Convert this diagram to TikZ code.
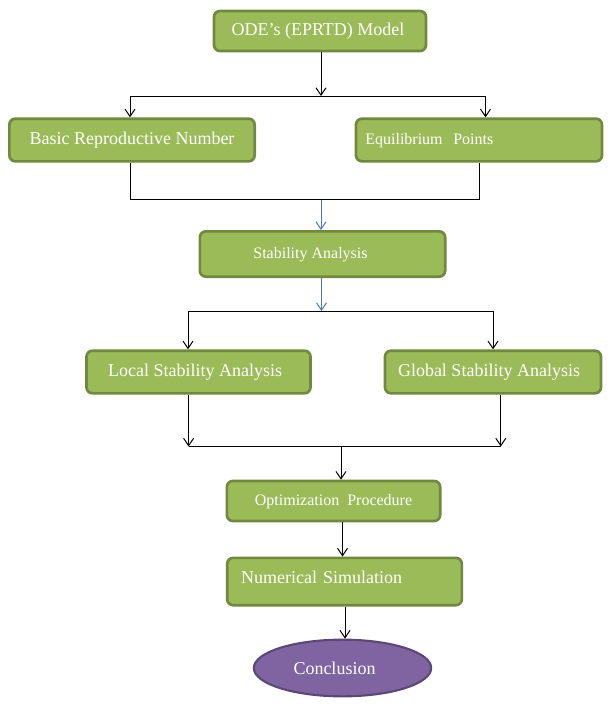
\documentclass[tikz,border=0pt]{standalone}
\usepackage{fontspec}
\setmainfont{Liberation Serif}
\usetikzlibrary{arrows.meta,shapes.geometric}
\definecolor{gfill}{HTML}{9BBB59}
\definecolor{gdraw}{HTML}{71893F}
\definecolor{pfill}{HTML}{8064A2}
\definecolor{pdraw}{HTML}{5C4776}
\definecolor{lblue}{HTML}{4A7EBB}
\tikzset{
  box/.style={draw=gdraw, fill=gfill, line width=2pt, rounded corners=4.5pt,
    text=white, inner sep=0pt, text height=9pt, text depth=3pt},
  big/.style={font=\fontsize{13.5}{16}\selectfont},
  small/.style={font=\fontsize{12}{14}\selectfont},
  oval/.style={ellipse, draw=pdraw, fill=pfill, line width=1.6pt, text=white, inner sep=0pt},
  arr/.style={-{Straight Barb[length=5.5pt,width=7.5pt]}, line width=0.75pt},
  ln/.style={line width=0.75pt},
}
\begin{document}
\begin{tikzpicture}[x=0.75pt,y=-0.75pt]
\useasboundingbox (0,0) rectangle (611,708);
% nodes
\node[box,big,minimum width=159pt,minimum height=30pt] (ode) at (320,31) {ODE’s (EPRTD) Model\kern3pt};
\node[box,big,minimum width=184pt,minimum height=32pt] (basic) at (132,140) {Basic Reproductive Number};
\node[box,small,minimum width=184.5pt,minimum height=32pt,text width=170.5pt,align=left,inner xsep=7pt] (equil) at (479,140) {Equilibrium\ \ Points};
\node[box,small,minimum width=184pt,minimum height=34pt] (stab) at (322.5,254) {Stability\ Analysis\kern18pt};
\node[box,big,minimum width=168pt,minimum height=32pt] (local) at (198.5,372) {Local Stability Analysis\kern5pt};
\node[box,big,minimum width=162pt,minimum height=32pt] (global) at (493,372) {Global Stability Analysis\kern6pt};
\node[box,small,minimum width=160pt,minimum height=30pt] (opt) at (333.5,501) {Optimization\ \ Procedure};
\node[box,big,minimum width=176pt,minimum height=35.5pt,text width=155pt,align=left,inner xsep=10.5pt,text depth=6pt] (num) at (344.5,581.5) {Numerical Simulation};
\node[oval,big,minimum width=133pt,minimum height=42.5pt] (concl) at (342.5,668) {Conclusion\kern12pt};
% junction coordinates
\coordinate (j1m) at (321,96);
\coordinate (j1l) at (130,96);
\coordinate (j1r) at (485.5,96);
\coordinate (j2l) at (130,199.5);
\coordinate (j2r) at (479,199.5);
\coordinate (j2m) at (321,199.5);
\coordinate (j3m) at (321.5,311);
\coordinate (j3l) at (188,311);
\coordinate (j3r) at (493,311);
\coordinate (j4l) at (188.6,446.5);
\coordinate (j4r) at (500.8,446.5);
\coordinate (j4m) at (341,446.5);
\coordinate (c5) at (342.5,0);
\coordinate (c6) at (345,0);
% connectors
\draw[arr] (ode.south -| j1m) -- (j1m);
\draw[ln] (j1l) -- (j1r);
\draw[arr] (j1l) -- (j1l |- basic.north);
\draw[arr] (j1r) -- (j1r |- equil.north);
\draw[ln] (basic.south -| j2l) -- (j2l) -- (j2r) -- (equil.south -| j2r);
\draw[arr,draw=lblue] (j2m) -- (j2m |- stab.north);
\draw[arr,draw=lblue] (stab.south -| j3m) -- (j3m);
\draw[ln] (j3l) -- (j3r);
\draw[arr] (j3l) -- (j3l |- local.north);
\draw[arr] (j3r) -- (j3r |- global.north);
\draw[arr] (local.south -| j4l) -- (j4l);
\draw[arr] (global.south -| j4r) -- (j4r);
\draw[ln] (j4l) -- (j4r);
\draw[arr] (j4m) -- (j4m |- opt.north);
\draw[arr] (opt.south -| c5) -- (num.north -| c5);
\draw[arr] (num.south -| c6) -- (concl.north -| c6);
\end{tikzpicture}
\end{document}
